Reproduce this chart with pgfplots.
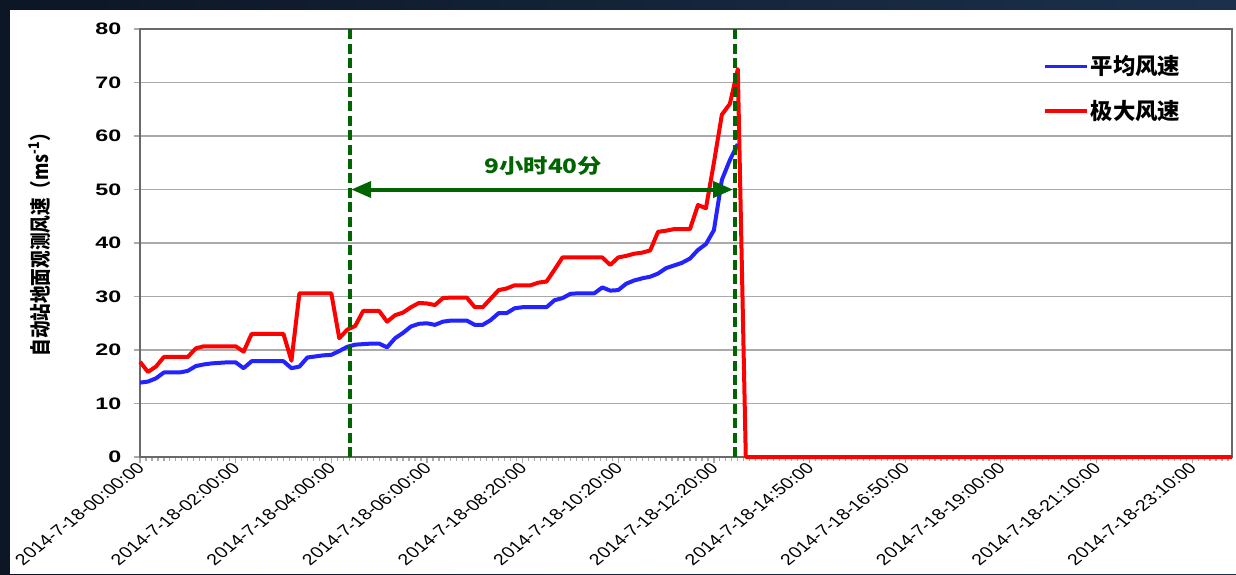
\documentclass[border=0pt]{standalone}
\usepackage{fontspec}
\setmainfont{Liberation Sans}
\newfontfamily\cjk{Noto Sans CJK SC}
\usepackage{pgfplots}
\pgfplotsset{compat=1.18}
\usetikzlibrary{arrows.meta}
\definecolor{navyA}{RGB}{12,22,36}
\definecolor{navyB}{RGB}{28,48,76}
\definecolor{dkgreen}{RGB}{0,100,0}
\definecolor{avgblue}{RGB}{35,35,255}
\definecolor{maxred}{RGB}{255,0,0}
\definecolor{gridgray}{RGB}{170,170,170}
\definecolor{axgray}{RGB}{105,105,105}
\begin{document}
\begin{tikzpicture}
\useasboundingbox (0,0) rectangle (618pt,287pt);
\shade[left color=navyA, right color=navyB] (0,0) rectangle (618pt,287pt);
\fill[white] (5pt,0) rectangle (618pt,282pt);
\begin{axis}[
  at={(70pt,58.5pt)}, anchor=south west,
  width=546pt, height=214pt, scale only axis,
  xmin=0, xmax=137, ymin=0, ymax=80,
  clip=false,
  axis line style={draw=axgray, line width=1.1pt},
  ytick={0,10,...,80},
  ymajorgrids, grid style={draw=gridgray, line width=0.7pt},
  xtick={0,12,...,132},
  xticklabels={2014-7-18-00:00:00,2014-7-18-02:00:00,2014-7-18-04:00:00,2014-7-18-06:00:00,2014-7-18-08:20:00,2014-7-18-10:20:00,2014-7-18-12:20:00,2014-7-18-14:50:00,2014-7-18-16:50:00,2014-7-18-19:00:00,2014-7-18-21:10:00,2014-7-18-23:10:00},
  minor xtick={0,0.75,...,137},
  xtick pos=bottom, ytick pos=left,
  tick align=outside,
  major tick length=3pt, minor tick length=2pt,
  xtick style={draw=gridgray, line width=0.6pt},
  minor tick style={draw=gridgray, line width=0.6pt},
  ytick style={draw=gridgray, line width=0.7pt},
  /pgf/number format/assume math mode=true,
  yticklabel style={font=\bfseries\fontsize{8.3}{9}\selectfont, xscale=1.4, anchor=east, xshift=-1pt},
  xticklabel style={font=\fontsize{7.8}{9}\selectfont, xscale=1.26, rotate=45, anchor=east, inner sep=0.5pt, yshift=-1pt},
  ylabel={\cjk\bfseries 自动站地面观测风速（ms\textsuperscript{-1}）},
  ylabel style={at={(axis description cs:-0.0916,0.507)}, anchor=center, rotate=-90, xscale=1.2, rotate=90, font=\fontsize{8.8}{10}\selectfont},
  legend style={draw=none, fill=none, at={(axis description cs:0.827,0.943)}, anchor=north west,
    font=\cjk\bfseries\fontsize{11.2}{13}\selectfont, row sep=9pt, inner sep=0pt,
    nodes={inner sep=1pt}},
  legend cell align=left,
  legend image code/.code={\draw[#1, line width=1.6pt] (0pt,0pt) -- (21pt,0pt);},
]
\addplot[avgblue, line width=2pt, line join=round] coordinates {
(0,13.9) (1,14.1) (2,14.7) (3,15.8) (4,15.8) (5,15.8) (6,16.1) (7,17.0) (8,17.3) (9,17.5)
(10,17.6) (11,17.7) (12,17.7) (13,16.6) (14,17.9) (15,17.9) (16,17.9) (17,17.9) (18,17.9) (19,16.6)
(20,16.9) (21,18.6) (22,18.8) (23,19.0) (24,19.1) (25,19.8) (26,20.6) (27,21.0) (28,21.1) (29,21.2)
(30,21.2) (31,20.5) (32,22.2) (33,23.2) (34,24.4) (35,24.9) (36,25.0) (37,24.7) (38,25.3) (39,25.5)
(40,25.5) (41,25.5) (42,24.7) (43,24.7) (44,25.6) (45,26.9) (46,26.9) (47,27.8) (48,28.0) (49,28.0)
(50,28.0) (51,28.0) (52,29.3) (53,29.7) (54,30.5) (55,30.6) (56,30.6) (57,30.6) (58,31.7) (59,31.1)
(60,31.2) (61,32.4) (62,33.0) (63,33.4) (64,33.7) (65,34.3) (66,35.3) (67,35.8) (68,36.3) (69,37.1)
(70,38.7) (71,39.8) (72,42.4) (73,51.8) (74,55.5) (75,58.5)
};
\addlegendentry{平均风速}
\addplot[maxred, line width=2pt, line join=round] coordinates {
(0,17.8) (1,15.9) (2,16.9) (3,18.7) (4,18.7) (5,18.7) (6,18.7) (7,20.3) (8,20.7) (9,20.7)
(10,20.7) (11,20.7) (12,20.7) (13,19.7) (14,23.0) (15,23.0) (16,23.0) (17,23.0) (18,23.0) (19,18.0)
(20,30.6) (21,30.6) (22,30.6) (23,30.6) (24,30.6) (25,22.2) (26,23.8) (27,24.5) (28,27.3) (29,27.3)
(30,27.3) (31,25.3) (32,26.5) (33,27.0) (34,28.0) (35,28.8) (36,28.7) (37,28.4) (38,29.7) (39,29.8)
(40,29.8) (41,29.8) (42,28.0) (43,28.0) (44,29.6) (45,31.2) (46,31.5) (47,32.1) (48,32.1) (49,32.1)
(50,32.6) (51,32.8) (52,35.0) (53,37.3) (54,37.3) (55,37.3) (56,37.3) (57,37.3) (58,37.3) (59,35.9)
(60,37.3) (61,37.6) (62,38.0) (63,38.2) (64,38.6) (65,42.1) (66,42.3) (67,42.6) (68,42.6) (69,42.6)
(70,47.1) (71,46.5) (72,55.0) (73,64.0) (74,66.0) (75,72.5) (76,0) (137,0)
};
\addlegendentry{极大风速}
\addplot[dkgreen, line width=2pt, dash pattern=on 5pt off 2.2pt, forget plot] coordinates {(26.3,0) (26.3,80)};
\addplot[dkgreen, line width=2pt, dash pattern=on 5pt off 2.2pt, forget plot] coordinates {(74.6,0) (74.6,80)};
\addplot[dkgreen, line width=2pt, {Triangle[length=10pt,width=8pt]}-{Triangle[length=10pt,width=8pt]}, forget plot] coordinates {(26.5,50) (74.4,50)};
\node[text=dkgreen, font=\cjk\bfseries\fontsize{10}{12}\selectfont, xscale=1.22] at (axis cs:50.6,54.4) {9小时40分};
\end{axis}
\end{tikzpicture}
\end{document}
